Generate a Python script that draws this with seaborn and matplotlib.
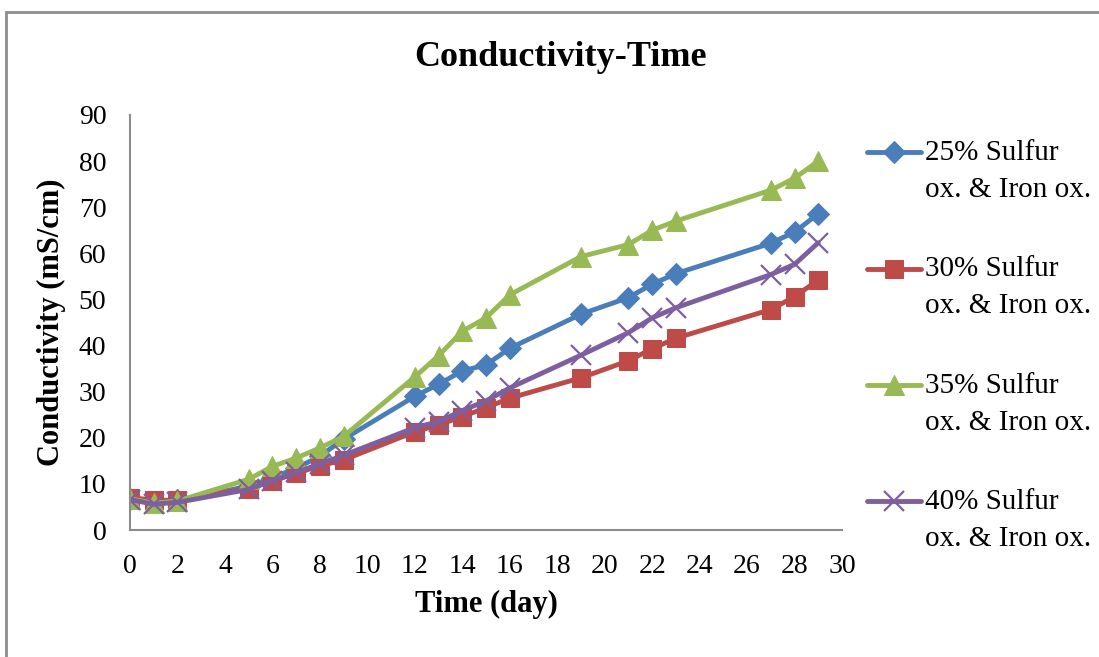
import numpy as np
import matplotlib
matplotlib.use("Agg")
import matplotlib.pyplot as plt
from matplotlib.patches import Rectangle
from matplotlib.legend_handler import HandlerLine2D
import seaborn as sns

# Sampling days and measured conductivity (mS/cm) for each mixture
days = [0, 1, 2, 5, 6, 7, 8, 9, 12, 13, 14, 15, 16, 19, 21, 22, 23, 27, 28, 29]
cond_25 = [6.8, 6.0, 6.4, 9.5, 11.3, 13.4, 16.0, 19.7, 29.0, 31.6, 34.5, 35.8,
           39.4, 46.8, 50.4, 53.3, 55.6, 62.2, 64.6, 68.6]
cond_30 = [7.0, 6.5, 6.4, 9.0, 10.6, 12.3, 13.9, 15.2, 21.3, 22.8, 24.6, 26.5,
           28.6, 33.0, 36.7, 39.3, 41.6, 47.8, 50.6, 54.2]
cond_35 = [6.8, 5.8, 6.3, 11.0, 13.8, 15.6, 17.8, 20.3, 33.2, 37.8, 43.1, 46.0,
           51.0, 59.3, 61.9, 65.0, 67.0, 73.7, 76.3, 80.0]
cond_40 = [6.6, 5.6, 6.0, 8.8, 10.7, 12.5, 14.3, 16.2, 22.2, 23.5, 25.9, 28.0,
           30.8, 37.9, 42.8, 46.0, 48.2, 55.4, 57.6, 62.3]

series_labels = ["25% Sulfur\nox. & Iron ox.", "30% Sulfur\nox. & Iron ox.",
                 "35% Sulfur\nox. & Iron ox.", "40% Sulfur\nox. & Iron ox."]
x_ticks = list(range(0, 31, 2))
y_ticks = list(range(0, 91, 10))

sns.set_style("white")
plt.rcParams["font.family"] = ["Liberation Serif", "DejaVu Serif"]
plt.rcParams["text.color"] = "black"
plt.rcParams["axes.labelcolor"] = "black"

fig = plt.figure(figsize=(10.99, 6.57), dpi=100)
ax = fig.add_axes([130 / 1099, 1 - 530 / 657, 712 / 1099, 415 / 657])

styles = [
    dict(color="#4A7EBB", marker="D", markersize=11),
    dict(color="#BE4B48", marker="s", markersize=12.5),
    dict(color="#98B954", marker="^", markersize=14),
    dict(color="#7D5FA0", marker="x", markersize=14, markeredgewidth=1.6),
]
for vals, lab, st in zip([cond_25, cond_30, cond_35, cond_40], series_labels, styles):
    sns.lineplot(x=days, y=vals, ax=ax, linewidth=3.5, label=lab, legend=False,
                 markeredgecolor=st["color"], **st)

ax.set_xlim(0, 30)
ax.set_ylim(0, 90)
ax.set_xticks(x_ticks)
ax.set_yticks(y_ticks)
ax.tick_params(axis="both", length=0, labelsize=20, pad=17, colors="black")
for side in ("top", "right"):
    ax.spines[side].set_visible(False)
for side in ("left", "bottom"):
    ax.spines[side].set_color("#8c8c8c")
    ax.spines[side].set_linewidth(1.5)

ax.set_xlabel("Time (day)", fontsize=22, fontweight="bold", color="black")
ax.set_ylabel("Conductivity (mS/cm)", fontsize=22, fontweight="bold", color="black")
ax.xaxis.set_label_coords(0.5, -0.145)
ax.yaxis.set_label_coords(-0.09, 0.5)

fig.text(561 / 1099, 1 - 57 / 657, "Conductivity-Time", fontsize=26,
         fontweight="bold", ha="center", va="center", color="black")


class FirstLineHandler(HandlerLine2D):
    """Aligns the legend key with the first line of a two-line label."""

    def __init__(self, shift, **kw):
        super().__init__(**kw)
        self.shift = shift

    def create_artists(self, legend, orig_handle, xdescent, ydescent,
                       width, height, fontsize, trans):
        arts = super().create_artists(legend, orig_handle, xdescent, ydescent,
                                      width, height, fontsize, trans)
        for a in arts:
            a.set_ydata(np.asarray(a.get_ydata(), dtype=float) + self.shift)
        return arts


leg_fs = 21
line_pitch_pt = 27.4  # distance between the two label lines, in points
handles = ax.get_lines()[:4]
leg = ax.legend(handles, series_labels, loc="upper left",
                bbox_to_anchor=(867 / 1099, 1 - 140 / 657),
                bbox_transform=fig.transFigure, frameon=False,
                fontsize=leg_fs, borderpad=0, borderaxespad=0,
                handlelength=1.85, handletextpad=0.15, labelspacing=1.83,
                numpoints=1, labelcolor="black",
                handler_map={h: FirstLineHandler(0.5 * line_pitch_pt) for h in handles})
for t in leg.get_texts():
    t.set_linespacing(1.55)

# Chart-area outline
fig.patches.append(Rectangle((6 / 1099, -0.2), 1.5, 1.2 - 12 / 657,
                             transform=fig.transFigure, fill=False,
                             edgecolor="#8c8c8c", linewidth=2))

fig.savefig("out.png", dpi=100)
